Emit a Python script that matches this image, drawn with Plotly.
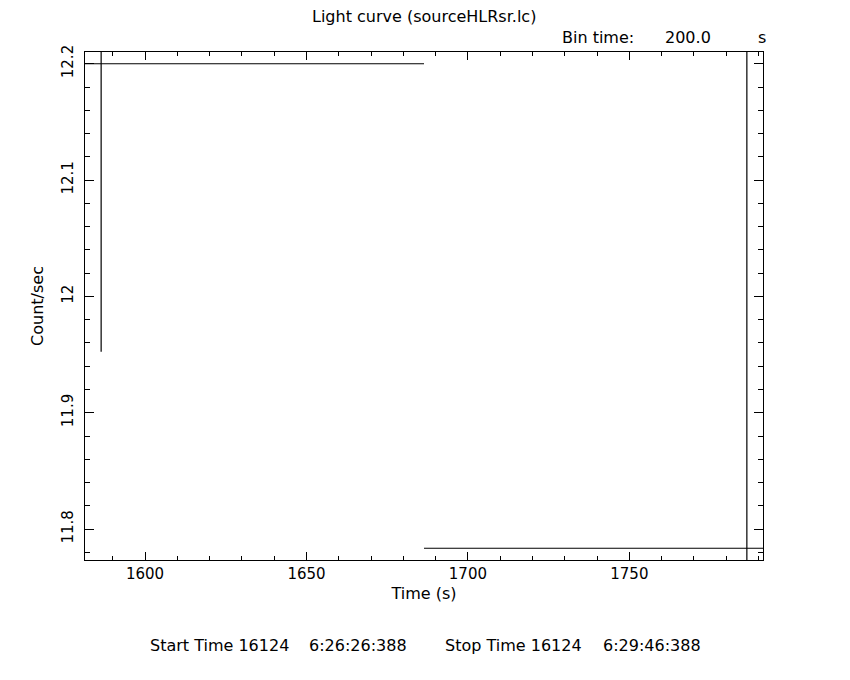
import plotly.graph_objects as go

# ---- data ----
time_s = [1586.4, 1786.4]          # bin centres (s)
half_bin = [100.0, 100.0]          # half of 200 s bin
rate = [12.2, 11.7835]             # count/sec
rate_err = [0.2475, 0.5]

x_range = [1581.4, 1791.4]
y_range = [11.7734, 12.2101]

title_text = "Light curve (sourceHLRsr.lc)"
x_title = "Time (s)"
y_title = "Count/sec"
start_text = ["Start Time 16124", "6:26:26:388"]
stop_text = ["Stop Time 16124", "6:29:46:388"]
bin_text = ["Bin time:", "200.0", "s"]

W, H = 850, 680
OFF = 8.0  # page body margin
L, R, T, B = 85.3 - OFF, 763.3 - OFF, 51.7 - OFF, 560.0 - OFF
FONT = dict(family="DejaVu Sans", size=15, color="black")
TFONT = dict(family="DejaVu Sans", size=16, color="black")


def fx(px):
    return (px - OFF - L) / (R - L)


def fy(py):
    return (B - (py - OFF)) / (B - T)


fig = go.Figure()
fig.add_trace(go.Scatter(
    x=time_s, y=rate, mode="markers",
    marker=dict(size=1, color="rgba(0,0,0,0)"),
    error_x=dict(type="data", array=half_bin, symmetric=True, width=0,
                 thickness=1.2, color="black"),
    error_y=dict(type="data", array=rate_err, symmetric=True, width=0,
                 thickness=1.2, color="black"),
    showlegend=False, hoverinfo="skip",
))

axis_common = dict(
    showline=True, linecolor="black", linewidth=1.2, mirror="ticks",
    ticks="inside", tickcolor="black", tickwidth=1, showgrid=False,
    zeroline=False, tickfont=FONT,
)

fig.update_xaxes(range=x_range, dtick=50, tick0=0, ticklen=8,
                 minor=dict(dtick=10, ticklen=4, ticks="inside",
                            tickcolor="black", tickwidth=1, showgrid=False),
                 title=dict(text=x_title, font=TFONT, standoff=5),
                 **axis_common)
fig.update_yaxes(range=y_range, dtick=0.1, tick0=0, ticklen=9, tickangle=-90,
                 ticklabelstandoff=5,
                 minor=dict(dtick=0.02, ticklen=4.5, ticks="inside",
                            tickcolor="black", tickwidth=1, showgrid=False),
                 title=dict(text=y_title, font=TFONT, standoff=11),
                 **axis_common)

ann = []
ann.append(dict(text=title_text, x=fx(424.5), y=fy(16), xanchor="center",
                yanchor="middle"))
ann.append(dict(text=bin_text[0], x=fx(560), y=fy(37), xanchor="left",
                yanchor="middle"))
ann.append(dict(text=bin_text[1], x=fx(713), y=fy(37), xanchor="right",
                yanchor="middle"))
ann.append(dict(text=bin_text[2], x=fx(756), y=fy(37), xanchor="left",
                yanchor="middle"))
ann.append(dict(text=start_text[0], x=fx(148), y=fy(646), xanchor="left",
                yanchor="middle"))
ann.append(dict(text=start_text[1], x=fx(409), y=fy(646), xanchor="right",
                yanchor="middle"))
ann.append(dict(text=stop_text[0], x=fx(443), y=fy(646), xanchor="left",
                yanchor="middle"))
ann.append(dict(text=stop_text[1], x=fx(703), y=fy(646), xanchor="right",
                yanchor="middle"))
for a in ann:
    a.update(xref="paper", yref="paper", showarrow=False, font=TFONT)

fig.update_layout(
    width=W, height=H,
    margin=dict(l=L, r=W - R, t=T, b=H - B, pad=0),
    paper_bgcolor="white", plot_bgcolor="white",
    annotations=ann,
)

fig.write_html("out.html")
